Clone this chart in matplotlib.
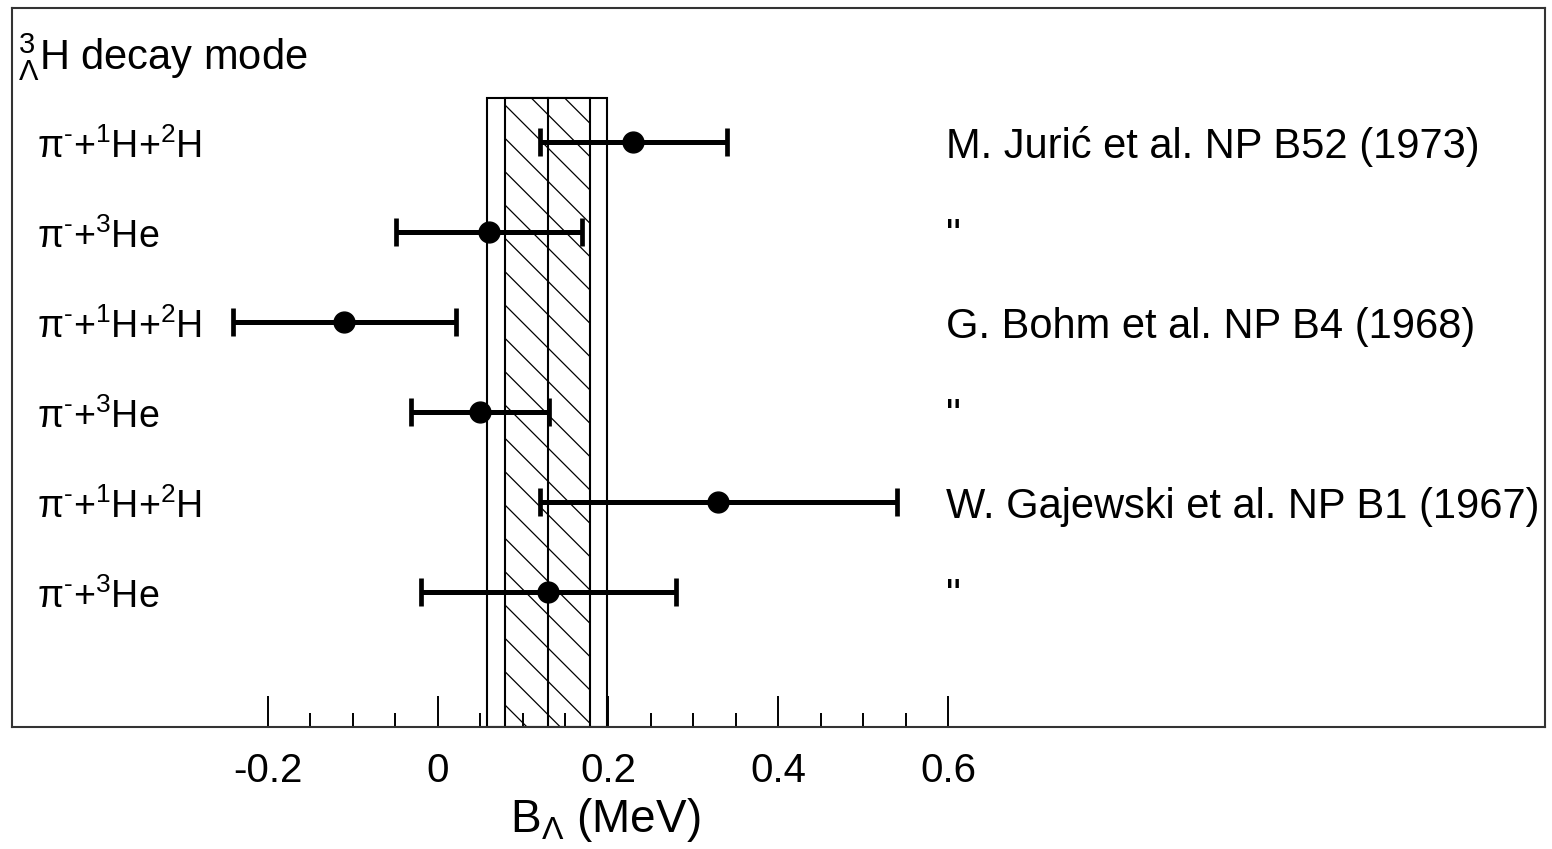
import matplotlib
matplotlib.use('Agg')
import matplotlib.pyplot as plt
from matplotlib.patches import Rectangle
import numpy as np

plt.rcParams['font.family'] = ['Liberation Sans', 'DejaVu Sans']
plt.rcParams['mathtext.fontset'] = 'custom'
plt.rcParams['mathtext.rm'] = 'Liberation Sans'
plt.rcParams['mathtext.it'] = 'Liberation Sans:italic'
plt.rcParams['hatch.color'] = '#808080'
plt.rcParams['hatch.linewidth'] = 0.9

# measurements of B_Lambda (MeV), top row first
modes = ['π$^{‐}$+$^{1}$H+$^{2}$H', 'π$^{‐}$+$^{3}$He',
         'π$^{‐}$+$^{1}$H+$^{2}$H', 'π$^{‐}$+$^{3}$He',
         'π$^{‐}$+$^{1}$H+$^{2}$H', 'π$^{‐}$+$^{3}$He']
refs = ['M. Jurić et al. NP B52 (1973)', '"',
        'G. Bohm et al. NP B4 (1968)', '"',
        'W. Gajewski et al. NP B1 (1967)', '"']
values = [0.229, 0.060, -0.111, 0.049, 0.329, 0.129]
err_lo = [0.109, 0.109, 0.130, 0.081, 0.209, 0.149]
err_hi = [0.111, 0.109, 0.132, 0.082, 0.211, 0.151]

# average band
band_mean = 0.129
band_inner = (0.079, 0.179)
band_outer = (0.058, 0.199)

major_ticks = [-0.2, 0, 0.2, 0.4, 0.6]
tick_labels = ['-0.2', '0', '0.2', '0.4', '0.6']
minor_ticks = [-0.15, -0.1, -0.05, 0.05, 0.1, 0.15, 0.25, 0.3, 0.35, 0.45, 0.5, 0.55]

fig = plt.figure(figsize=(15.52, 8.49), dpi=100)
ax = fig.add_axes([0.0077, 0.1437, 0.9878, 0.8469])

rows = np.arange(1, len(values) + 1)
ax.set_xlim(-0.501, 1.302)
ax.set_ylim(7.5, -0.489)

band_top = 0.51
ax.add_patch(Rectangle((band_outer[0], band_top), band_outer[1] - band_outer[0],
                       7.5 - band_top, facecolor='white', edgecolor='black',
                       linewidth=1.5, zorder=1))
ax.add_patch(Rectangle((band_inner[0], band_top), band_inner[1] - band_inner[0],
                       7.5 - band_top, facecolor='white', edgecolor='black',
                       hatch='\\', linewidth=1.5, zorder=1))
ax.plot([band_mean, band_mean], [band_top, 7.5], color='black', linewidth=1.5, zorder=2)

ax.errorbar(values, rows, xerr=[err_lo, err_hi], fmt='o', color='black',
            markersize=15, elinewidth=3.6, capsize=10, capthick=3.4, zorder=3)

for r, m, ref in zip(rows, modes, refs):
    ax.text(-0.471, r + 0.18, m, fontsize=27, va='baseline', ha='left')
    ax.text(0.597, r + 0.18, ref, fontsize=30, va='baseline', ha='left')

ax.text(-0.494, 0.19, r'$^{3}_{\Lambda}$H decay mode', fontsize=30,
        va='baseline', ha='left')

ax.set_xticks(major_ticks)
ax.set_xticklabels(tick_labels, fontsize=29)
ax.set_xticks(minor_ticks, minor=True)
ax.set_yticks([])
ax.tick_params(axis='x', which='major', direction='in', length=22, width=1.4,
               pad=18)
ax.tick_params(axis='x', which='minor', direction='in', length=10, width=1.4)
ax.set_xlabel(r'B$_{\Lambda}$ (MeV)', fontsize=33, x=0.387, labelpad=4)

for s in ax.spines.values():
    s.set_linewidth(1.5)
    s.set_color('#333333')

fig.savefig('out.png', dpi=100)
